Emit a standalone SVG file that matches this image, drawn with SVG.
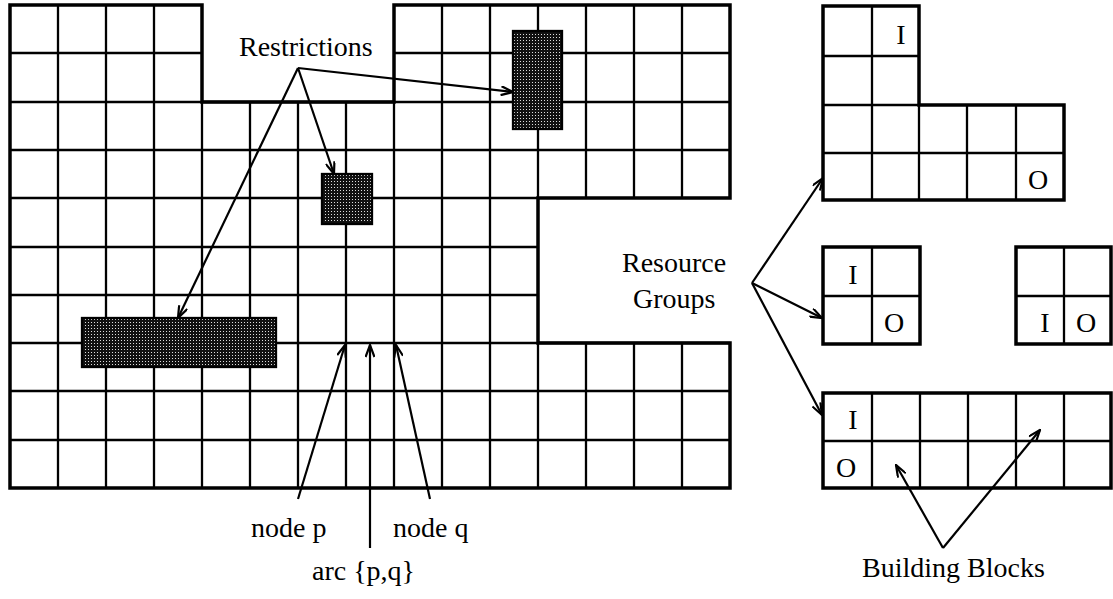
<svg xmlns="http://www.w3.org/2000/svg" width="1113" height="599" viewBox="0 0 1113 599">
<style>
.in{stroke:#000;stroke-width:2.3;fill:none}
.out{stroke:#000;stroke-width:3.5;fill:none;stroke-linejoin:miter}
.hat{fill:url(#dots);stroke:#000;stroke-width:2.3}
.t{font-family:"Liberation Serif","Times New Roman",serif;font-size:28px;fill:#000}
.c{text-anchor:middle}
.con{stroke:#000;stroke-width:2.2;fill:none;marker-end:url(#arr)}
</style>
<defs>
<pattern id="dots" width="3" height="3" patternUnits="userSpaceOnUse">
<rect width="3" height="3" fill="#111"/>
<rect x="1" y="1" width="1" height="1" fill="#ddd"/>
</pattern>
<marker id="arr" viewBox="0 0 14 10" refX="13" refY="5" markerWidth="14" markerHeight="10" markerUnits="userSpaceOnUse" orient="auto">
<path d="M1,0.5 L13,5 L1,9.5" fill="none" stroke="#000" stroke-width="2.2"/>
</marker>
</defs>
<rect width="1113" height="599" fill="#fff"/>

<g id="main-grid">
<path class="in" d="M58,5V488M106,5V488M154,5V488M202,102V488M250,102V488M298,102V488M346,102V488M394,102V488M442,5V488M490,5V488M538,5V198M538,343V488M586,5V198M586,343V488M634,5V198M634,343V488M682,5V198M682,343V488"/>
<path class="in" d="M10,53H202M394,53H730M10,102H730M10,150H730M10,198H538M10,247H538M10,295H538M10,343H730M10,391H730M10,440H730"/>
<path class="out" d="M10,5H202V102H394V5H730V198H538V343H730V488H10Z"/>
</g>

<g id="restriction-1"><rect class="hat" x="513" y="31" width="49" height="98"/></g>
<g id="restriction-2"><rect class="hat" x="322" y="174" width="50" height="50"/></g>
<g id="restriction-3"><rect class="hat" x="82" y="318" width="194" height="49"/></g>

<g id="group-L">
<path class="in" d="M872,6V200M919,105V200M967,105V200M1016,105V200M823,56H919M823,105H919M823,153H1064"/>
<path class="out" d="M823,6H919V105H1064V200H823Z"/>
<text class="t c" x="901" y="44">I</text>
<text class="t c" x="1038" y="189">O</text>
</g>

<g id="group-sq1">
<path class="in" d="M872,247V344M823,296H920"/>
<rect class="out" x="823" y="247" width="97" height="97"/>
<text class="t c" x="853" y="284">I</text>
<text class="t c" x="894" y="332">O</text>
</g>

<g id="group-sq2">
<path class="in" d="M1064,247V344M1016,296H1111"/>
<rect class="out" x="1016" y="247" width="95" height="97"/>
<text class="t c" x="1045" y="332">I</text>
<text class="t c" x="1086" y="332">O</text>
</g>

<g id="group-row">
<path class="in" d="M872,393V488M920,393V488M968,393V488M1016,393V488M1064,393V488M823,441H1111"/>
<rect class="out" x="823" y="393" width="288" height="95"/>
<text class="t c" x="853" y="429">I</text>
<text class="t c" x="846" y="477">O</text>
</g>

<g id="labels">
<text class="t" x="239" y="56">Restrictions</text>
<text class="t" x="251" y="537">node p</text>
<text class="t" x="393" y="537">node q</text>
<text class="t" x="312" y="580">arc {p,q}</text>
<text class="t" x="622" y="272">Resource</text>
<text class="t" x="633" y="308">Groups</text>
<text class="t" x="862" y="577">Building Blocks</text>
</g>

<g id="connectors">
<path class="con" d="M298,68L513,92"/>
<path class="con" d="M298,68L334,174"/>
<path class="con" d="M298,68L178,318"/>
<path class="con" d="M298,499L345,345"/>
<path class="con" d="M370,548L370,345"/>
<path class="con" d="M430,499L396,345"/>
<path class="con" d="M752,283L823,178"/>
<path class="con" d="M752,283L822,318"/>
<path class="con" d="M752,283L822,415"/>
<path class="con" d="M943,548L896,465"/>
<path class="con" d="M943,548L1040,430"/>
</g>
</svg>
